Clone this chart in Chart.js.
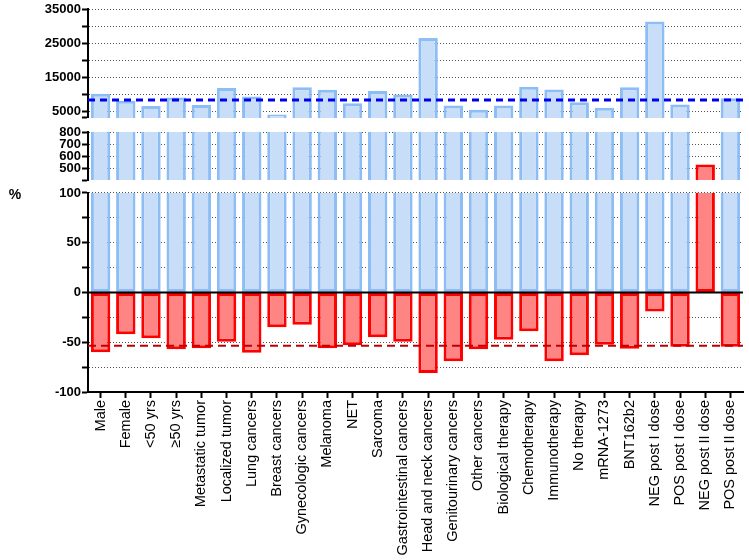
<!DOCTYPE html>
<html>
<head>
<meta charset="utf-8">
<script src="https://cdn.jsdelivr.net/npm/chart.js@4/dist/chart.umd.min.js"></script>
<style>
  html, body { margin: 0; padding: 0; background: #fff; }
</style>
</head>
<body>
<canvas id="chart" width="749" height="560"></canvas>
<script>
const categories = [
  'Male', 'Female', '<50 yrs', '≥50 yrs', 'Metastatic tumor', 'Localized tumor',
  'Lung cancers', 'Breast cancers', 'Gynecologic cancers', 'Melanoma', 'NET', 'Sarcoma',
  'Gastrointestinal cancers', 'Head and neck cancers', 'Genitourinary cancers', 'Other cancers',
  'Biological therapy', 'Chemotherapy', 'Immunotherapy', 'No therapy', 'mRNA-1273', 'BNT162b2',
  'NEG post I dose', 'POS post I dose', 'NEG post II dose', 'POS post II dose'
];
// blue bars (positive change)
const riseValues = [
  10100, 8100, 6500, 9000, 6800, 11800,
  9300, 4000, 12000, 11300, 7300, 10900,
  9900, 26500, 6700, 5400,
  6700, 12200, 11400, 7600, 6000, 12000,
  31300, 7000, null, 8800
];
// red bars
const fallValues = [
  -60, -42, -46, -57, -56, -49.5,
  -60.5, -35, -32.5, -56, -53, -45,
  -49.5, -81, -69, -57,
  -47.5, -39, -69, -63, -52.5, -56.5,
  -19, -54.5, 530, -54.5
];
const riseRef = 8300;
const fallRef = -53.5;

// tick values of the three axis segments (first/last = segment range)
const topTicks = [3000, 5000, 10000, 15000, 20000, 25000, 30000, 35000];
const midTicks = [400, 500, 600, 700, 800];
const botTicks = [-100, -75, -50, -25, 0, 25, 50, 75, 100];
const topLabels = [5000, 15000, 25000, 35000];
const midLabels = [500, 600, 700, 800];
const botLabels = [-100, -50, 0, 50, 100];

const FONT = 'Liberation Sans, Arial, Helvetica, sans-serif';

// part of each bar that falls inside one axis segment
function piece(values, lo, hi) {
  return values.map(v => {
    if (v == null) return null;
    const a = Math.max(Math.min(0, v), lo);
    const b = Math.min(Math.max(0, v), hi);
    return b > a ? [a, b] : null;
  });
}

// no border on the side where the bar is cut by the axis break
function edges(lo, hi, w) {
  return ctx => {
    const r = ctx.raw;
    if (!r) return 0;
    return { left: w, right: w, top: r[1] < hi ? w : 0, bottom: r[0] > lo ? w : 0 };
  };
}

const segments = [
  { axis: 'yTop', ticks: topTicks },
  { axis: 'yMid', ticks: midTicks },
  { axis: 'yBot', ticks: botTicks }
];
const series = [
  { values: riseValues, fill: '#c8ddf8', line: '#8dbdf5' },
  { values: fallValues, fill: '#ff8585', line: '#ff0000' }
];

const datasets = [];
series.forEach(s => {
  segments.forEach(seg => {
    const lo = seg.ticks[0], hi = seg.ticks[seg.ticks.length - 1];
    datasets.push({
      data: piece(s.values, lo, hi),
      yAxisID: seg.axis,
      backgroundColor: s.fill,
      borderColor: s.line,
      borderWidth: edges(lo, hi, 3),
      borderSkipped: false,
      grouped: false,
      barPercentage: 0.77,
      categoryPercentage: 1
    });
  });
});

function yAxis(ticks, labels, weight, stackWeight) {
  return {
    type: 'linear',
    position: 'left',
    stack: 'left',
    stackWeight: stackWeight,
    weight: weight,
    min: ticks[0],
    max: ticks[ticks.length - 1],
    afterBuildTicks: s => { s.ticks = ticks.map(v => ({ value: v })); },
    afterFit: s => { s.width = 88; },
    grid: {
      color: c => (c.tick && (c.tick.value === ticks[0] || c.tick.value === 0)) ? 'rgba(0,0,0,0)' : '#555',
      lineWidth: 1,
      tickColor: '#000',
      tickWidth: 2,
      tickLength: 6
    },
    border: { color: '#000', width: 2, dash: [1, 2] },
    ticks: {
      autoSkip: false,
      padding: 1,
      color: '#000',
      font: { family: FONT, size: 13, weight: 'bold' },
      callback: v => labels.includes(v) ? String(v) : ''
    }
  };
}

function gapAxis(weight, stackWeight) {
  return {
    type: 'linear', position: 'left', stack: 'left',
    stackWeight: stackWeight, weight: weight, min: 0, max: 1,
    afterFit: s => { s.width = 88; },
    grid: { display: false }, border: { display: false }, ticks: { display: false }
  };
}

const overlay = {
  id: 'overlay',
  afterDatasetsDraw(chart) {
    const { ctx, chartArea: a, scales } = chart;
    const hline = (y, color, width, dash) => {
      ctx.save();
      ctx.strokeStyle = color;
      ctx.lineWidth = width;
      ctx.setLineDash(dash);
      ctx.beginPath();
      ctx.moveTo(a.left, y);
      ctx.lineTo(a.right, y);
      ctx.stroke();
      ctx.restore();
    };
    hline(scales.yTop.getPixelForValue(riseRef), '#0000ee', 3, [7, 5]);
    hline(scales.yBot.getPixelForValue(fallRef), '#c00000', 2, [8, 5]);
    hline(scales.yBot.getPixelForValue(0), '#000', 2, []);

    ctx.save();
    ctx.fillStyle = '#000';
    ctx.font = 'bold 14px ' + FONT;
    ctx.textAlign = 'center';
    ctx.textBaseline = 'middle';
    ctx.fillText('%', 15, 195);
    ctx.restore();
  }
};

new Chart(document.getElementById('chart'), {
  type: 'bar',
  data: { labels: categories, datasets: datasets },
  options: {
    responsive: false,
    animation: false,
    devicePixelRatio: 1,
    layout: { padding: { top: 9, right: 6, bottom: 0, left: 0 } },
    plugins: { legend: { display: false }, tooltip: { enabled: false } },
    scales: {
      x: {
        type: 'category',
        offset: true,
        afterFit: s => { s.height = 168; s.paddingRight = 6; s.paddingLeft = 0; },
        grid: { offset: false, drawOnChartArea: false, tickColor: '#000', tickWidth: 2, tickLength: 6 },
        border: { color: '#000', width: 2 },
        ticks: {
          autoSkip: false, minRotation: 90, maxRotation: 90, padding: 2, color: '#000',
          font: { family: FONT, size: 14.5 }
        }
      },
      yTop: yAxis(topTicks, topLabels, 5, 109),
      gap1: gapAxis(4, 14),
      yMid: yAxis(midTicks, midLabels, 3, 48),
      gap2: gapAxis(2, 13),
      yBot: yAxis(botTicks, botLabels, 1, 199)
    }
  },
  plugins: [overlay]
});
</script>
</body>
</html>
